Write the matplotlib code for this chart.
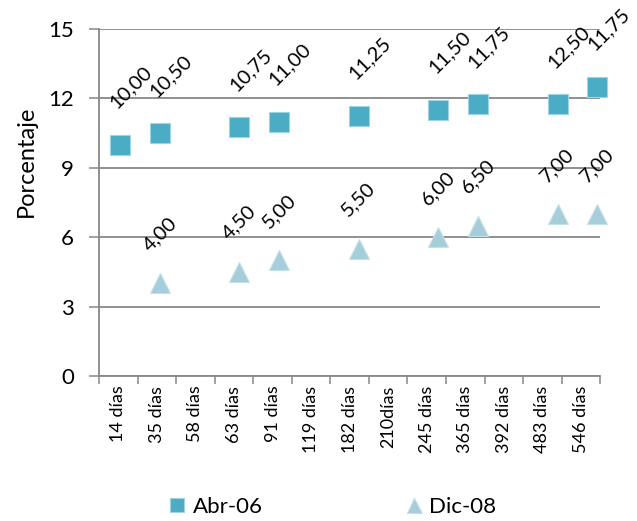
import numpy as np
import matplotlib
matplotlib.use('Agg')
import matplotlib.pyplot as plt

plt.rcParams['font.family'] = ['Lato', 'DejaVu Sans']

categories = ['14 días', '35 días', '58 días', '63 días', '91 días', '119 días', '182 días',
              '210días', '245 días', '365 días', '392 días', '483 días', '546 días']
nan = np.nan
abr_06 = [10.00, 10.50, nan, 10.75, 11.00, nan, 11.25, nan, 11.50, 11.75, nan, 11.75, 12.50]
abr_06_labels = ['10,00', '10,50', '', '10,75', '11,00', '', '11,25', '', '11,50', '11,75', '',
                 '12,50', '11,75']
dic_08 = [nan, 4.00, nan, 4.50, 5.00, nan, 5.50, nan, 6.00, 6.50, nan, 7.00, 7.00]
yticks = [0, 3, 6, 9, 12, 15]

grid_col = '#878787'
sq_col = '#4BACC6'
tri_col = '#A5CDDA'

fig = plt.figure(figsize=(6.37, 5.21), dpi=100)
ax = fig.add_axes([0.1556, 0.2783, 0.7865, 0.666])

x = np.arange(len(categories))
ax.set_xlim(-0.5, len(categories) - 0.5)
ax.set_ylim(0, 15)
ax.set_xticks(np.arange(len(categories) + 1) - 0.5)
ax.set_xticklabels([])
ax.set_xticks(x, minor=True)
ax.set_xticklabels(categories, minor=True, rotation=90, fontsize=13)
ax.tick_params(axis='x', which='major', length=6, width=1.1, color=grid_col, direction='out')
ax.tick_params(axis='x', which='minor', length=0, pad=7)
ax.set_yticks(yticks)
ax.tick_params(axis='y', length=7, width=1.1, color=grid_col, labelsize=16, pad=11)
ax.yaxis.grid(True, color=grid_col, linewidth=1.3)
ax.set_axisbelow(True)
for s in ['top', 'right']:
    ax.spines[s].set_visible(False)
for s in ['left', 'bottom']:
    ax.spines[s].set_color(grid_col)
    ax.spines[s].set_linewidth(1.3)
ax.set_ylabel('Porcentaje', fontsize=17)
ax.yaxis.set_label_coords(-0.124, 0.62)

# markers sit on their own category scale, slightly wider than the labelled one
ax2 = ax.twiny()
ax2.set_xlim(-0.52, 12.07)
ax2.set_xticks([])
for s in ax2.spines.values():
    s.set_visible(False)

ax2.plot(x, abr_06, 's', ms=14.5, color=sq_col, mec='#9ED3E2', mew=0.8,
         label='Abr-06', clip_on=False)
ax2.plot(x, dic_08, '^', ms=15, color=tri_col, mec='#C4E0E9', mew=0.8,
         label='Dic-08', clip_on=False)

for xi, v, lab in zip(x, abr_06, abr_06_labels):
    if not np.isnan(v):
        ax2.annotate(lab, (xi, v), xytext=(8, 24), textcoords='offset points',
                     ha='center', va='bottom', rotation=45, fontsize=14.5,
                     annotation_clip=False)
for xi, v in zip(x, dic_08):
    if not np.isnan(v):
        ax2.annotate(f'{v:.2f}'.replace('.', ','), (xi, v), xytext=(0, 21),
                     textcoords='offset points', ha='center', va='bottom',
                     rotation=45, fontsize=14.5, annotation_clip=False)

fig.legend(*ax2.get_legend_handles_labels(), loc='lower center',
           bbox_to_anchor=(0.52, -0.03), ncol=2, frameon=False, fontsize=16,
           columnspacing=6.3, handletextpad=0.2, handlelength=1.0, markerscale=0.72)

fig.patch.set_facecolor('white')
fig.savefig('out.png', dpi=100)
